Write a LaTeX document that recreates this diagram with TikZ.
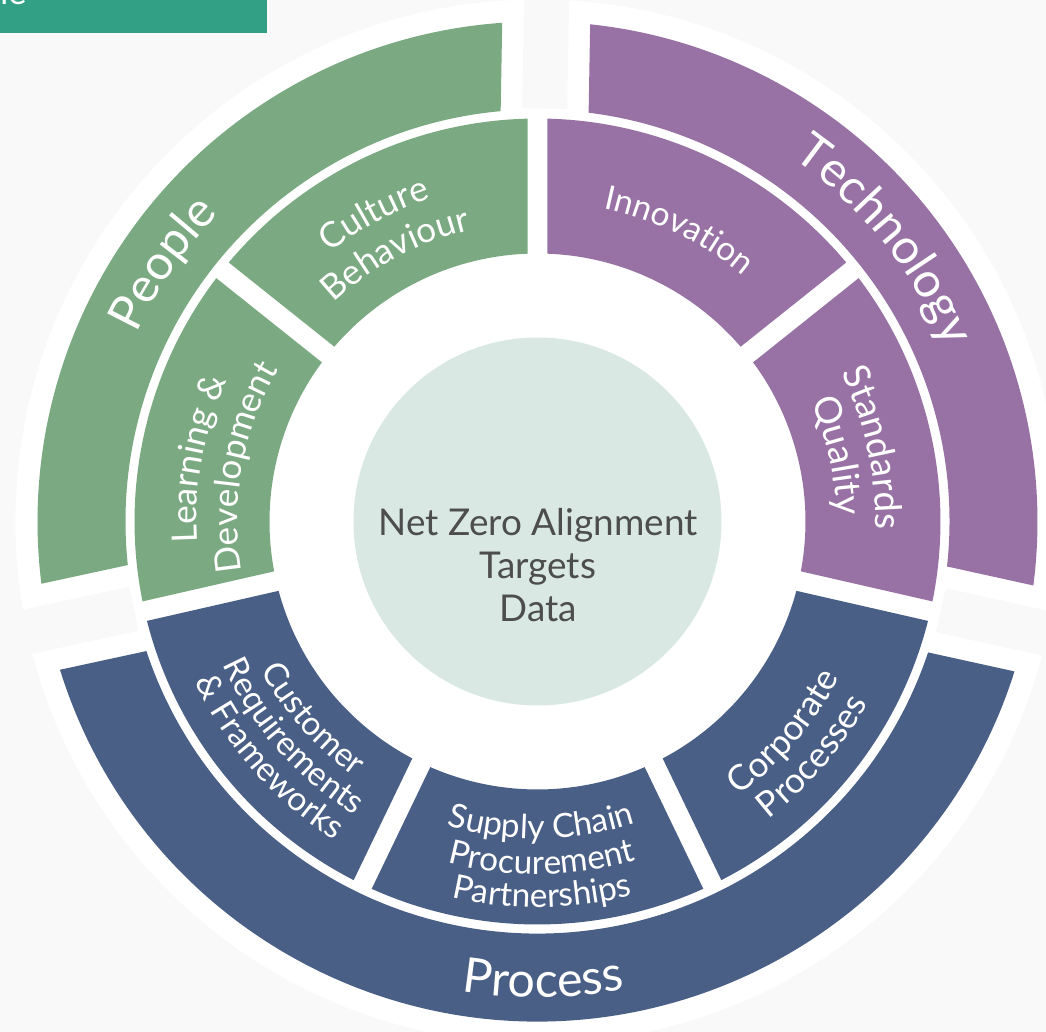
\documentclass[tikz,border=0pt]{standalone}
\usepackage{fontspec}
\setmainfont{Lato}
\usetikzlibrary{decorations.text}

\definecolor{bgGray}{HTML}{F9F9F9}
\definecolor{peopleGreen}{HTML}{7BAA82}
\definecolor{techPurple}{HTML}{9872A4}
\definecolor{processBlue}{HTML}{4A5F86}
\definecolor{coreMint}{HTML}{D9E8E3}
\definecolor{bannerTeal}{HTML}{31A085}
\definecolor{coreText}{HTML}{4D4D4D}

% annular sector with parallel gaps: colour, inner r, outer r, start, end, half gap
\newcommand{\ringsector}[6]{%
  \fill[#1] ({#4+asin(#6/#3)}:#3)
    arc[start angle={#4+asin(#6/#3)}, end angle={#5-asin(#6/#3)}, radius=#3]
    -- ({#5-asin(#6/#2)}:#2)
    arc[start angle={#5-asin(#6/#2)}, end angle={#4+asin(#6/#2)}, radius=#2] -- cycle;}

% curved labels: baseline radius, centre angle, font, text
\newcommand{\toplabel}[4]{%
  \path[decorate, decoration={text along path, text align=center, text={|#3|#4}}]
    ({#2+75}:#1) arc[start angle={#2+75}, end angle={#2-75}, radius=#1];}
\newcommand{\bottomlabel}[4]{%
  \path[decorate, decoration={text along path, text align=center, text={|#3|#4}}]
    ({#2-75}:#1) arc[start angle={#2-75}, end angle={#2+75}, radius=#1];}

\newcommand{\bigfont}{\color{white}\fontsize{27.5}{30}\selectfont}
\newcommand{\ringfont}{\color{white}\fontsize{20}{22}\selectfont}
\newcommand{\wideringfont}{\color{white}\fontsize{21}{23}\selectfont}
\newcommand{\smallringfont}{\color{white}\fontsize{19}{21}\selectfont}

\begin{document}
\begin{tikzpicture}[x=0.02cm, y=0.02cm]%
\useasboundingbox (-537.5,-510.5) rectangle (508.5,521.5);
\fill[bgGray] (-537.5,-510.5) rectangle (508.5,521.5);

\fill[bannerTeal] (-537.5,488.5) rectangle (-270.5,521.5);
\node [anchor=base east, text=white, font=\fontsize{20}{22}\selectfont] (banner) at (-504.5,516.5) {ne};

% white backing with its three gaps
\fill[white] (0,0) circle[radius=522];
\foreach \g in {89,192.2,-12.4}
  \fill[bgGray, rotate=\g] (413,-22.5) rectangle (640,22.5);

% outer ring
\ringsector{peopleGreen}{412}{500}{89}{192.2}{44}
\ringsector{techPurple}{412}{500}{-12.4}{89}{44}
\ringsector{processBlue}{412}{500}{192.2}{347.6}{44}

% inner ring
\foreach \c [count=\k from 0] in {techPurple,techPurple,processBlue,processBlue,processBlue,peopleGreen,peopleGreen} {
  \ringsector{\c}{268}{403}{90-(\k+1)*360/7}{90-\k*360/7}{10}
}

\fill[coreMint] (0,0) circle[radius=184];
\node [align=center, text=coreText, font=\fontsize{21}{24.5}\selectfont] (core) at (0.5,-44)
  {Net Zero Alignment\\Targets\\Data};

% outer labels
\toplabel{443}{145.4}{\bigfont}{People}
\toplabel{444}{39}{\bigfont}{Technology}
\bottomlabel{476}{270.7}{\bigfont}{Process}

% inner labels
\toplabel{340}{118}{\ringfont}{Culture}
\toplabel{299}{118}{\ringfont}{Behaviour}
\toplabel{320}{64}{\smallringfont}{Innovation}
\toplabel{338}{12.4}{\wideringfont}{Standards}
\toplabel{299}{12.4}{\wideringfont}{Quality}
\toplabel{341}{169.6}{\ringfont}{Learning {\&}}
\toplabel{300}{169.6}{\ringfont}{Development}
\bottomlabel{340}{319.5}{\ringfont}{Corporate}
\bottomlabel{377}{319.5}{\ringfont}{Processes}
\bottomlabel{317}{270.7}{\smallringfont}{Supply Chain}
\bottomlabel{353}{270.7}{\smallringfont}{Procurement}
\bottomlabel{386}{270.7}{\smallringfont}{Partnerships}
\bottomlabel{314}{221.3}{\smallringfont}{Customer}
\bottomlabel{346}{221.3}{\smallringfont}{Requirements}
\bottomlabel{378}{221.3}{\smallringfont}{{\&} Frameworks}

\end{tikzpicture}
\end{document}
